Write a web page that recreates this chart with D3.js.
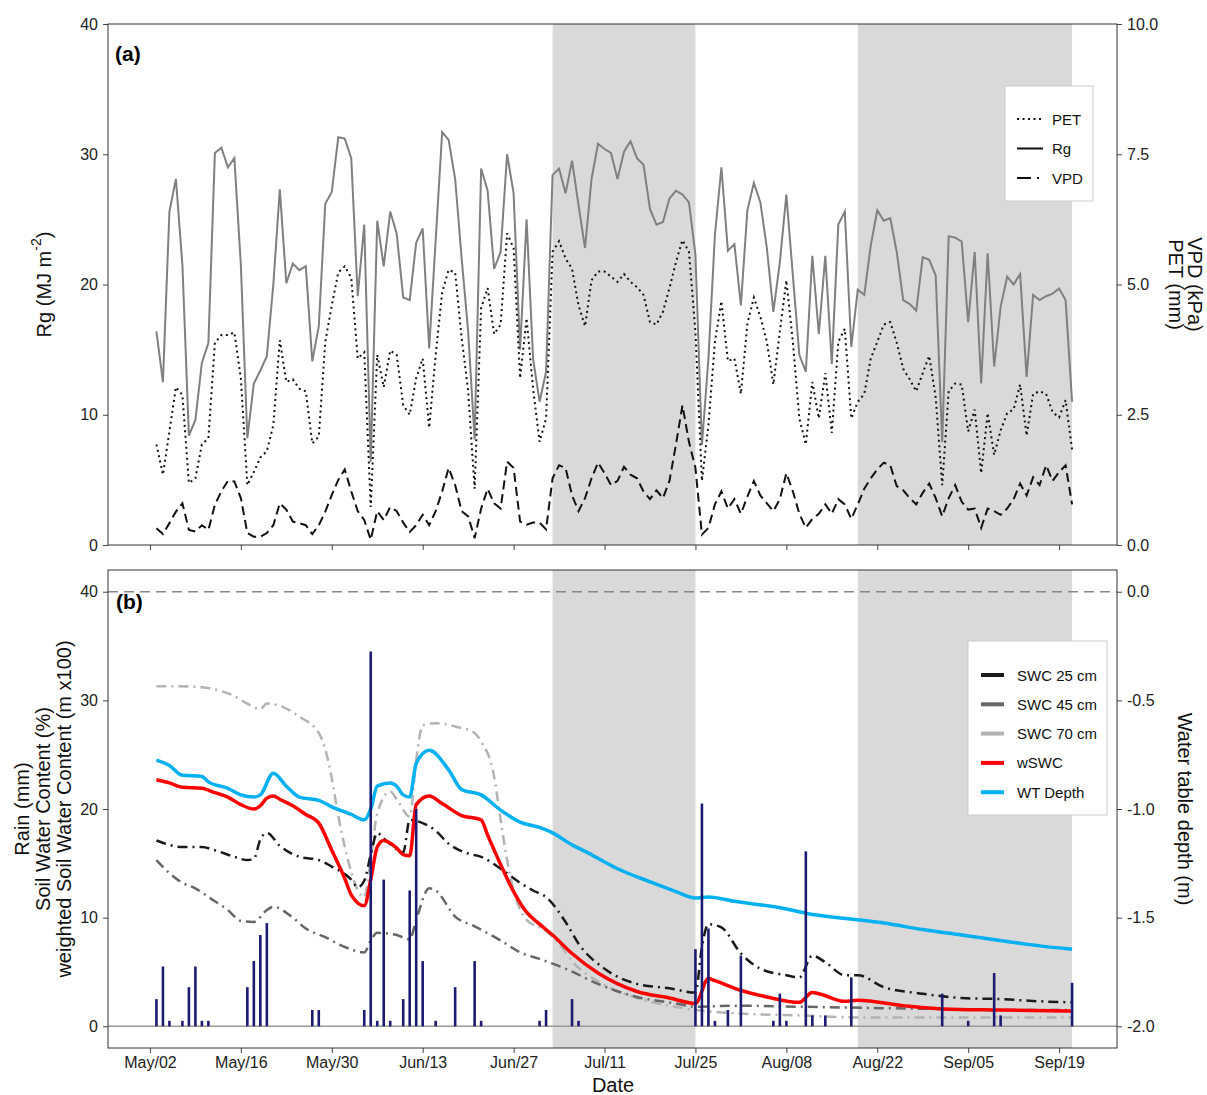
<!DOCTYPE html>
<html>
<head>
<meta charset="utf-8">
<script src="https://cdn.jsdelivr.net/npm/d3@7"></script>
<style>
  body { margin: 0; background: #fff; }
  svg { font-family: "Liberation Sans", Arial, sans-serif; }
  .tick text { font-size: 16px; fill: #222; }
  .tick line { stroke: #444; }
  .axisTitle { font-size: 20px; fill: #111; }
  .legendText { font-size: 15px; fill: #111; }
</style>
</head>
<body>
<div id="chart"></div>
<script>
// ---- data (daily series start May 3, day index counted from May 02) ----
var rg = [16.4, 12.5, 25.6, 28.1, 21.5, 8.4, 9.6, 14.0, 15.5, 30.1, 30.5, 29.0, 29.7, 21.5, 8.2, 12.4, 13.4, 14.5, 20.0, 27.3,
  20.1, 21.6, 21.1, 21.4, 14.1, 16.8, 26.2, 27.1, 31.3, 31.2, 29.7, 19.1, 24.6, 6.4, 24.9, 21.4, 25.6, 23.9, 19.0, 18.8,
  23.2, 24.3, 15.1, 23.4, 31.7, 31.1, 28.1, 22.0, 16.4, 8.1, 28.9, 27.2, 21.2, 22.5, 30.0, 27.0, 15.0, 25.0, 14.3, 11.0,
  13.3, 28.4, 28.9, 27.0, 29.5, 26.1, 22.8, 28.1, 30.8, 30.4, 30.1, 28.1, 30.2, 31.0, 29.7, 29.2, 25.8, 24.6, 24.8, 26.6,
  27.2, 26.9, 26.3, 22.3, 7.7, 14.3, 23.8, 29.0, 22.6, 23.1, 18.4, 25.7, 27.8, 26.3, 22.8, 17.9, 21.7, 26.9, 20.7, 14.6,
  13.3, 22.2, 16.2, 22.2, 13.9, 24.6, 25.6, 15.2, 19.6, 19.2, 23.0, 25.7, 24.9, 25.1, 22.5, 18.8, 18.5, 18.0, 22.1, 21.9,
  20.7, 7.9, 23.7, 23.6, 23.3, 17.1, 22.5, 12.4, 22.4, 13.7, 18.3, 20.6, 20.0, 20.8, 12.9, 19.2, 18.8, 19.1, 19.3, 19.7,
  18.8, 11.0];

var pet = [1.93, 1.35, 2.18, 3.03, 2.88, 1.19, 1.28, 1.93, 2.05, 3.88, 4.03, 4.03, 4.08, 3.2, 1.15, 1.4, 1.68, 1.8, 2.3, 3.93,
  3.13, 3.18, 3.0, 2.95, 1.95, 2.08, 3.9, 4.6, 5.23, 5.35, 5.13, 3.58, 3.7, 0.73, 3.65, 3.03, 3.73, 3.65, 2.68, 2.5,
  3.2, 3.58, 2.25, 3.65, 4.85, 5.28, 5.23, 3.98, 2.95, 1.08, 4.55, 4.93, 4.05, 4.23, 5.98, 5.7, 3.2, 4.35, 3.0, 1.98,
  2.43, 5.63, 5.83, 5.5, 5.3, 4.6, 4.2, 5.08, 5.25, 5.25, 5.15, 5.05, 5.2, 5.05, 4.95, 4.8, 4.28, 4.23, 4.48, 4.93,
  5.43, 5.85, 5.63, 4.1, 1.23, 2.3, 3.9, 4.68, 3.53, 3.58, 2.9, 4.25, 4.75, 4.38, 3.9, 3.08, 4.1, 5.08, 3.9, 2.43,
  1.93, 3.13, 2.43, 3.3, 2.15, 3.9, 4.15, 2.43, 2.75, 2.9, 3.58, 3.9, 4.23, 4.28, 3.88, 3.38, 3.18, 2.95, 3.3, 3.63,
  2.83, 1.15, 2.95, 3.1, 3.08, 2.18, 2.6, 1.38, 2.53, 1.73, 2.2, 2.53, 2.6, 3.08, 2.1, 2.9, 2.95, 2.9, 2.55, 2.45,
  2.78, 1.83];

var vpd = [0.32, 0.21, 0.42, 0.64, 0.8, 0.29, 0.26, 0.38, 0.29, 0.77, 1.03, 1.23, 1.22, 0.9, 0.23, 0.16, 0.16, 0.23, 0.38, 0.8,
  0.68, 0.45, 0.42, 0.38, 0.21, 0.38, 0.64, 0.96, 1.25, 1.45, 1.03, 0.65, 0.48, 0.1, 0.65, 0.48, 0.73, 0.65, 0.43, 0.25,
  0.38, 0.58, 0.38, 0.65, 1.03, 1.48, 1.15, 0.65, 0.55, 0.13, 0.7, 1.08, 0.8, 0.7, 1.6, 1.48, 0.45, 0.39, 0.43, 0.43,
  0.3, 1.28, 1.53, 1.48, 0.95, 0.65, 0.9, 1.28, 1.58, 1.38, 1.15, 1.23, 1.5, 1.35, 1.28, 1.03, 0.88, 1.05, 0.9, 1.23,
  1.93, 2.68, 1.98, 1.48, 0.2, 0.33, 0.78, 1.03, 0.7, 0.88, 0.6, 0.93, 1.23, 0.95, 0.8, 0.65, 0.88, 1.38, 1.03, 0.6,
  0.33, 0.5, 0.6, 0.78, 0.6, 0.88, 0.78, 0.5, 0.78, 1.08, 1.28, 1.45, 1.58, 1.53, 1.13, 1.05, 0.9, 0.78, 1.0, 1.18,
  0.9, 0.55, 0.9, 1.15, 0.83, 0.68, 0.7, 0.33, 0.7, 0.65, 0.58, 0.7, 0.88, 1.18, 0.95, 1.3, 1.15, 1.53, 1.23, 1.4,
  1.53, 0.78];

// rain (mm), only the days with rain
var rainDays = [1, 2, 3, 5, 6, 7, 8, 9, 15, 16, 17, 18, 25, 26, 33, 34, 35, 36, 37, 39, 40, 41, 42, 44, 47, 50, 51, 60, 61, 65,
  66, 84, 85, 86, 87, 89, 91, 96, 97, 98, 101, 102, 104, 108, 122, 126, 130, 131, 142];
var rainMm = [2.5, 5.5, 0.5, 0.5, 3.6, 5.5, 0.5, 0.5, 3.6, 6.0, 8.4, 9.5, 1.5, 1.5, 1.5, 34.5, 0.5, 13.5, 0.5, 2.5, 12.5, 20.0, 6.0, 0.5, 3.6, 6.0, 0.5, 0.5, 1.5, 2.5,
  0.5, 7.1, 20.5, 9.0, 0.5, 1.5, 6.5, 0.5, 3.0, 0.5, 16.1, 1.0, 1.0, 4.5, 3.0, 0.5, 4.9, 1.0, 4.0];

var swc25Days = [1, 5, 8, 10, 13, 15, 16, 17, 18, 20, 23, 26, 28, 31, 32, 33, 34, 35, 36, 38, 39, 40, 42, 44, 46, 49, 51, 54, 57, 59,
  61, 64, 66, 70, 75, 80, 84, 85, 86, 88, 91, 94, 98, 100, 102, 104, 107, 109, 113, 119, 125, 131, 137, 142];
var swc25 = [17.1, 16.5, 16.5, 16.2, 15.6, 15.3, 15.4, 17.2, 17.8, 16.6, 15.6, 15.3, 14.7, 13.5, 12.8, 13.4, 15.8, 17.8, 17.3, 16.3, 16.0, 19.0, 18.7, 18.0, 16.8, 15.9, 15.6, 14.5, 13.2, 12.5,
  11.9, 9.6, 7.6, 5.3, 3.9, 3.5, 3.1, 7.3, 9.4, 9.1, 6.7, 5.3, 4.7, 4.5, 6.5, 5.9, 4.7, 4.7, 3.6, 3.0, 2.6, 2.5, 2.3, 2.2];

var swc45Days = [1, 3, 5, 7, 9, 12, 14, 16, 18, 19, 22, 24, 27, 30, 33, 34, 35, 38, 40, 41, 43, 44, 47, 50, 54, 57, 60, 64, 69, 75,
  81, 84, 90, 100, 110, 120, 131, 142];
var swc45 = [15.3, 14.1, 13.2, 12.7, 11.9, 10.7, 9.7, 9.6, 10.7, 11.0, 10.0, 9.0, 8.2, 7.3, 6.8, 7.9, 8.6, 8.4, 8.0, 9.8, 12.7, 12.5, 10.1, 9.2, 7.9, 6.8, 6.2, 5.3, 3.9, 2.7,
  2.1, 1.8, 1.9, 1.8, 1.7, 1.6, 1.5, 1.5];

var swc70Days = [1, 4, 8, 10, 13, 15, 17, 18, 20, 23, 26, 27, 28, 29, 31, 32, 33, 34, 35, 37, 38, 40, 41, 42, 44, 47, 50, 51, 53, 54,
  55, 56, 58, 61, 63, 65, 70, 75, 80, 84, 90, 100, 110, 120, 130, 142];
var swc70 = [31.3, 31.3, 31.2, 31.0, 30.4, 29.7, 29.2, 29.7, 29.5, 28.5, 27.0, 25.5, 22.8, 19.4, 14.2, 12.5, 11.9, 15.3, 19.6, 21.6, 20.9, 19.3, 24.5, 27.7, 27.9, 27.6, 27.0, 26.2, 23.0, 19.0,
  15.3, 12.5, 9.8, 8.8, 7.6, 6.0, 3.8, 2.6, 1.9, 1.5, 1.2, 1.0, 0.8, 0.8, 0.8, 0.8];

var wswcDays = [1, 3, 5, 8, 10, 12, 14, 16, 17, 18, 19, 20, 22, 24, 26, 28, 30, 31, 33, 34, 35, 36, 38, 39, 40, 41, 43, 45, 48, 51,
  52, 54, 56, 58, 60, 62, 65, 69, 75, 80, 84, 86, 87, 91, 95, 100, 102, 103, 107, 109, 116, 122, 131, 142];
var wswc = [22.7, 22.4, 22.0, 21.9, 21.5, 21.1, 20.4, 20.0, 20.3, 21.0, 21.2, 20.9, 20.3, 19.5, 18.7, 16.2, 13.6, 12.1, 11.1, 13.5, 16.5, 17.1, 16.4, 15.8, 15.7, 20.4, 21.2, 20.5, 19.4, 19.0,
  17.6, 14.9, 12.4, 10.5, 9.4, 8.4, 6.7, 4.9, 3.2, 2.6, 2.1, 4.4, 4.2, 3.3, 2.7, 2.2, 3.1, 3.0, 2.3, 2.4, 1.9, 1.6, 1.5, 1.4];

// water table depth (m)
var wtDays = [1, 3, 5, 8, 9, 12, 14, 16, 17, 19, 21, 23, 26, 28, 31, 33, 34, 35, 37, 38, 39, 40, 41, 43, 46, 48, 51, 54, 57, 60,
  62, 65, 67, 72, 77, 81, 84, 86, 90, 98, 101, 109, 113, 119, 125, 132, 137, 142];
var wtDepth = [-0.775, -0.80, -0.845, -0.85, -0.875, -0.905, -0.935, -0.945, -0.935, -0.835, -0.895, -0.945, -0.96, -0.99, -1.025, -1.05, -1.0, -0.895, -0.88, -0.895, -0.935, -0.945, -0.79, -0.73, -0.82, -0.91, -0.935, -1.005, -1.06, -1.085,
  -1.11, -1.165, -1.195, -1.275, -1.335, -1.38, -1.41, -1.405, -1.425, -1.46, -1.48, -1.51, -1.525, -1.555, -1.58, -1.61, -1.63, -1.645];

// shaded periods and date ticks
var shadeStart = ["2013-07-03", "2013-08-19"];
var shadeEnd = ["2013-07-25", "2013-09-21"];
var tickLabels = ["2013-05-02", "2013-05-16", "2013-05-30", "2013-06-13", "2013-06-27", "2013-07-11",
  "2013-07-25", "2013-08-08", "2013-08-22", "2013-09-05", "2013-09-19"];

// ---- layout ----
var svgWidth = 1207;
var svgHeight = 1095;
var left = 108, right = 1117;
var panelA = { top: 24, bottom: 545 };
var panelB = { top: 570, bottom: 1048 };

var may02 = new Date(Date.UTC(2013, 4, 2));
function dayDate(d) { return d3.utcDay.offset(may02, d); }
var parse = d3.utcParse("%Y-%m-%d");

var svg = d3.select("#chart")
  .append("svg")
  .attr("width", svgWidth)
  .attr("height", svgHeight);

var x = d3.scaleUtc()
  .domain([new Date(Date.UTC(2013, 3, 25, 13)), new Date(Date.UTC(2013, 8, 27, 22))])
  .range([left, right]);

var yA = d3.scaleLinear().domain([0, 40]).range([panelA.bottom, panelA.top]);
var yA2 = d3.scaleLinear().domain([0, 10]).range([panelA.bottom, panelA.top]);
var yB = d3.scaleLinear().domain([-2, 42]).range([panelB.bottom, panelB.top]);
var yB2 = d3.scaleLinear().domain([-2.1, 0.1]).range([panelB.bottom, panelB.top]);

var defs = svg.append("defs");
defs.append("clipPath").attr("id", "clipA").append("rect")
  .attr("x", left).attr("y", panelA.top).attr("width", right - left).attr("height", panelA.bottom - panelA.top);
defs.append("clipPath").attr("id", "clipB").append("rect")
  .attr("x", left).attr("y", panelB.top).attr("width", right - left).attr("height", panelB.bottom - panelB.top);

var tickDates = tickLabels.map(parse);

// shading
[panelA, panelB].forEach(function(p) {
  svg.selectAll(null)
    .data(shadeStart)
    .enter().append("rect")
      .attr("x", function(d) { return x(parse(d)); })
      .attr("width", function(d, i) { return x(parse(shadeEnd[i])) - x(parse(d)); })
      .attr("y", p.top)
      .attr("height", p.bottom - p.top)
      .attr("fill", "#d9d9d9");
});

// ---- panel (a) ----
var chartA = svg.append("g").attr("clip-path", "url(#clipA)");

function dailyLine(scale) {
  return d3.line()
    .x(function(d, i) { return x(dayDate(i + 1)); })
    .y(function(d) { return scale(d); });
}

chartA.append("path")
  .datum(rg)
  .attr("d", dailyLine(yA))
  .attr("fill", "none")
  .attr("stroke", "#808080")
  .attr("stroke-width", 2);

chartA.append("path")
  .datum(pet)
  .attr("d", dailyLine(yA2))
  .attr("fill", "none")
  .attr("stroke", "#111")
  .attr("stroke-width", 2)
  .attr("stroke-dasharray", "2,3.5");

chartA.append("path")
  .datum(vpd)
  .attr("d", dailyLine(yA2))
  .attr("fill", "none")
  .attr("stroke", "#111")
  .attr("stroke-width", 2)
  .attr("stroke-dasharray", "9,5");

svg.append("g")
  .attr("transform", "translate(" + left + ",0)")
  .call(d3.axisLeft(yA).tickValues([0, 10, 20, 30, 40]).tickSize(5).tickPadding(5))
  .call(function(g) { g.select(".domain").remove(); });

svg.append("g")
  .attr("transform", "translate(" + right + ",0)")
  .call(d3.axisRight(yA2).tickValues([0, 2.5, 5, 7.5, 10]).tickFormat(d3.format(".1f")).tickSize(5).tickPadding(5))
  .call(function(g) { g.select(".domain").remove(); });

svg.append("g")
  .attr("transform", "translate(0," + panelA.bottom + ")")
  .call(d3.axisBottom(x).tickValues(tickDates).tickSize(5).tickFormat(""))
  .call(function(g) { g.select(".domain").remove(); });

svg.append("rect")
  .attr("x", left).attr("y", panelA.top)
  .attr("width", right - left).attr("height", panelA.bottom - panelA.top)
  .attr("fill", "none").attr("stroke", "#333");

svg.append("text")
  .attr("x", 115).attr("y", 61)
  .attr("font-size", "21px").attr("font-weight", "bold")
  .text("(a)");

// axis titles (a)
var rgTitle = svg.append("text")
  .attr("class", "axisTitle")
  .attr("transform", "translate(44," + ((panelA.top + panelA.bottom) / 2) + ") rotate(-90)")
  .attr("text-anchor", "middle")
  .attr("dominant-baseline", "central");
rgTitle.append("tspan").text("Rg (MJ m");
rgTitle.append("tspan").attr("baseline-shift", "super").attr("font-size", "14px").text("-2");
rgTitle.append("tspan").text(")");

svg.append("text")
  .attr("class", "axisTitle")
  .attr("transform", "translate(1195," + ((panelA.top + panelA.bottom) / 2) + ") rotate(90)")
  .attr("text-anchor", "middle")
  .attr("dominant-baseline", "central")
  .text("VPD (kPa)");
svg.append("text")
  .attr("class", "axisTitle")
  .attr("transform", "translate(1176," + ((panelA.top + panelA.bottom) / 2) + ") rotate(90)")
  .attr("text-anchor", "middle")
  .attr("dominant-baseline", "central")
  .text("PET (mm)");

// legend (a)
var legA = [
  { name: "PET", dash: "2,3.5" },
  { name: "Rg", dash: null },
  { name: "VPD", dash: "14,6,2,6" }
];
var legendA = svg.append("g");
legendA.append("rect")
  .attr("x", 1005).attr("y", 86).attr("width", 88).attr("height", 115)
  .attr("fill", "#fff").attr("stroke", "#ccc");
legendA.selectAll("line")
  .data(legA)
  .enter().append("line")
    .attr("x1", 1017).attr("x2", 1043)
    .attr("y1", function(d, i) { return 119 + i * 29.5; })
    .attr("y2", function(d, i) { return 119 + i * 29.5; })
    .attr("stroke", "#111").attr("stroke-width", 2)
    .attr("stroke-dasharray", function(d) { return d.dash; });
legendA.selectAll("text")
  .data(legA)
  .enter().append("text")
    .attr("class", "legendText")
    .attr("x", 1052)
    .attr("y", function(d, i) { return 119 + i * 29.5; })
    .attr("dominant-baseline", "central")
    .text(function(d) { return d.name; });

// ---- panel (b) ----
var chartB = svg.append("g").attr("clip-path", "url(#clipB)");

chartB.append("line")
  .attr("x1", left).attr("x2", right)
  .attr("y1", yB(40)).attr("y2", yB(40))
  .attr("stroke", "#888").attr("stroke-width", 1.3).attr("stroke-dasharray", "10,6");
chartB.append("line")
  .attr("x1", left).attr("x2", right)
  .attr("y1", yB(0)).attr("y2", yB(0))
  .attr("stroke", "#999").attr("stroke-width", 1.5);

var seriesB = [
  { name: "SWC 70 cm", days: swc70Days, vals: swc70, color: "#b3b3b3", width: 2.5, dash: "10,5,2,5", scale: yB },
  { name: "SWC 45 cm", days: swc45Days, vals: swc45, color: "#666666", width: 2.5, dash: "10,5,2,5", scale: yB },
  { name: "SWC 25 cm", days: swc25Days, vals: swc25, color: "#1a1a1a", width: 2.5, dash: "10,5,2,5", scale: yB },
  { name: "wSWC", days: wswcDays, vals: wswc, color: "#ff0000", width: 3.5, dash: null, scale: yB },
  { name: "WT Depth", days: wtDays, vals: wtDepth, color: "#00b0f0", width: 3.5, dash: null, scale: yB2 }
];

seriesB.forEach(function(s) {
  var line = d3.line()
    .curve(d3.curveMonotoneX)
    .x(function(d, i) { return x(dayDate(s.days[i])); })
    .y(function(d) { return s.scale(d); });
  chartB.append("path")
    .datum(s.vals)
    .attr("d", line)
    .attr("fill", "none")
    .attr("stroke", s.color)
    .attr("stroke-width", s.width)
    .attr("stroke-dasharray", s.dash);
});

chartB.selectAll(".rain")
  .data(rainMm)
  .enter().append("rect")
    .attr("class", "rain")
    .attr("x", function(d, i) { return x(dayDate(rainDays[i])) - 1.3; })
    .attr("width", 2.6)
    .attr("y", function(d) { return yB(d); })
    .attr("height", function(d) { return yB(0) - yB(d); })
    .attr("fill", "#1b1b72");

svg.append("g")
  .attr("transform", "translate(" + left + ",0)")
  .call(d3.axisLeft(yB).tickValues([0, 10, 20, 30, 40]).tickSize(5).tickPadding(5))
  .call(function(g) { g.select(".domain").remove(); });

svg.append("g")
  .attr("transform", "translate(" + right + ",0)")
  .call(d3.axisRight(yB2).tickValues([0, -0.5, -1, -1.5, -2])
    .tickFormat(function(d) { return d3.format(".1f")(d).replace("\u2212", "-"); })
    .tickSize(5).tickPadding(5))
  .call(function(g) { g.select(".domain").remove(); });

svg.append("g")
  .attr("transform", "translate(0," + panelB.bottom + ")")
  .call(d3.axisBottom(x).tickValues(tickDates).tickSize(5).tickPadding(4).tickFormat(d3.utcFormat("%b/%d")))
  .call(function(g) { g.select(".domain").remove(); });

svg.append("rect")
  .attr("x", left).attr("y", panelB.top)
  .attr("width", right - left).attr("height", panelB.bottom - panelB.top)
  .attr("fill", "none").attr("stroke", "#333");

svg.append("text")
  .attr("x", 116).attr("y", 609)
  .attr("font-size", "21px").attr("font-weight", "bold")
  .text("(b)");

// axis titles (b)
var midB = (panelB.top + panelB.bottom) / 2;
["Rain (mm)", "Soil Water Content (%)", "weighted Soil Water Content (m x100)"].forEach(function(t, i) {
  svg.append("text")
    .attr("class", "axisTitle")
    .attr("transform", "translate(" + (22 + i * 21) + "," + midB + ") rotate(-90)")
    .attr("text-anchor", "middle")
    .attr("dominant-baseline", "central")
    .text(t);
});

svg.append("text")
  .attr("class", "axisTitle")
  .attr("transform", "translate(1185," + midB + ") rotate(90)")
  .attr("text-anchor", "middle")
  .attr("dominant-baseline", "central")
  .text("Water table depth (m)");

svg.append("text")
  .attr("class", "axisTitle")
  .attr("x", (left + right) / 2 + 0.5)
  .attr("y", 1092)
  .attr("text-anchor", "middle")
  .text("Date");

// legend (b)
var legB = seriesB.slice(0, 3).reverse().concat(seriesB.slice(3));
var legendB = svg.append("g");
legendB.append("rect")
  .attr("x", 968).attr("y", 641).attr("width", 139).attr("height", 174)
  .attr("fill", "#fff").attr("stroke", "#ccc");
legendB.selectAll("line")
  .data(legB)
  .enter().append("line")
    .attr("x1", 981).attr("x2", 1004)
    .attr("y1", function(d, i) { return 675 + i * 29.3; })
    .attr("y2", function(d, i) { return 675 + i * 29.3; })
    .attr("stroke", function(d) { return d.color; })
    .attr("stroke-width", 4);
legendB.selectAll("text")
  .data(legB)
  .enter().append("text")
    .attr("class", "legendText")
    .attr("x", 1017)
    .attr("y", function(d, i) { return 675 + i * 29.3; })
    .attr("dominant-baseline", "central")
    .text(function(d) { return d.name; });
</script>
</body>
</html>
